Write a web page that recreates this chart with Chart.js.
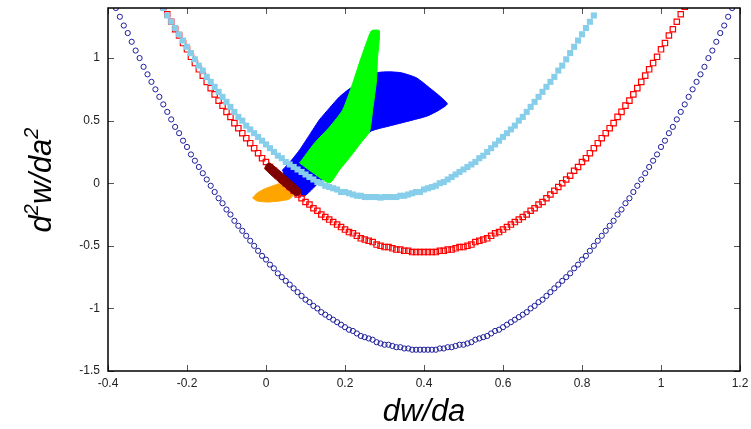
<!DOCTYPE html>
<html>
<head>
<meta charset="utf-8">
<script src="https://cdn.jsdelivr.net/npm/chart.js@4/dist/chart.umd.min.js"></script>
<style>
  body { margin: 0; background: #fff; }
  #wrap { width: 751px; height: 429px; }
</style>
</head>
<body>
<div id="wrap"><canvas id="chart" width="751" height="429"></canvas></div>
<script>
// tick positions
var xTicks = [-0.4, -0.2, 0, 0.2, 0.4, 0.6, 0.8, 1, 1.2];
var yTicks = [-1.5, -1, -0.5, 0, 0.5, 1];

// dark blue open circles
var navyX = [-0.38,-0.37,-0.36,-0.35,-0.34,-0.33,-0.32,-0.31,-0.30,-0.29,-0.28,-0.27,-0.26,-0.25,-0.24,-0.23,-0.22,-0.21,-0.20,-0.19,
  -0.18,-0.17,-0.16,-0.15,-0.14,-0.13,-0.12,-0.11,-0.10,-0.09,-0.08,-0.07,-0.06,-0.05,-0.04,-0.03,-0.02,-0.01,0,0.01,
  0.02,0.03,0.04,0.05,0.06,0.07,0.08,0.09,0.10,0.11,0.12,0.13,0.14,0.15,0.16,0.17,0.18,0.19,0.20,0.21,
  0.22,0.23,0.24,0.25,0.26,0.27,0.28,0.29,0.30,0.31,0.32,0.33,0.34,0.35,0.36,0.37,0.38,0.39,0.40,0.41,
  0.42,0.43,0.44,0.45,0.46,0.47,0.48,0.49,0.50,0.51,0.52,0.53,0.54,0.55,0.56,0.57,0.58,0.59,0.60,0.61,
  0.62,0.63,0.64,0.65,0.66,0.67,0.68,0.69,0.70,0.71,0.72,0.73,0.74,0.75,0.76,0.77,0.78,0.79,0.80,0.81,
  0.82,0.83,0.84,0.85,0.86,0.87,0.88,0.89,0.90,0.91,0.92,0.93,0.94,0.95,0.96,0.97,0.98,0.99,1.00,1.01,
  1.02,1.03,1.04,1.05,1.06,1.07,1.08,1.09,1.10,1.11,1.12,1.13,1.14,1.15,1.16,1.17,1.18];
var navyY = [1.40,1.33,1.26,1.20,1.13,1.06,1.00,0.93,0.87,0.81,0.75,0.69,0.63,0.57,0.51,0.45,0.40,0.34,0.29,0.23,
  0.18,0.13,0.08,0.03,-0.02,-0.07,-0.12,-0.16,-0.21,-0.25,-0.30,-0.34,-0.38,-0.42,-0.46,-0.50,-0.54,-0.58,-0.61,-0.65,
  -0.68,-0.72,-0.75,-0.78,-0.81,-0.84,-0.87,-0.90,-0.93,-0.95,-0.98,-1.00,-1.03,-1.05,-1.07,-1.09,-1.11,-1.13,-1.15,-1.17,
  -1.18,-1.20,-1.22,-1.23,-1.24,-1.25,-1.27,-1.28,-1.29,-1.29,-1.30,-1.31,-1.31,-1.32,-1.32,-1.33,-1.33,-1.33,-1.33,-1.33,
  -1.33,-1.33,-1.32,-1.32,-1.31,-1.31,-1.30,-1.29,-1.29,-1.28,-1.27,-1.25,-1.24,-1.23,-1.22,-1.20,-1.18,-1.17,-1.15,-1.13,
  -1.11,-1.09,-1.07,-1.05,-1.03,-1.00,-0.98,-0.95,-0.93,-0.90,-0.87,-0.84,-0.81,-0.78,-0.75,-0.72,-0.68,-0.65,-0.61,-0.58,
  -0.54,-0.50,-0.46,-0.42,-0.38,-0.34,-0.30,-0.25,-0.21,-0.16,-0.12,-0.07,-0.02,0.03,0.08,0.13,0.18,0.23,0.29,0.34,
  0.40,0.45,0.51,0.57,0.63,0.69,0.75,0.81,0.87,0.93,1.00,1.06,1.13,1.20,1.26,1.33,1.40];

// red open squares
var redX = [-0.26,-0.25,-0.24,-0.23,-0.22,-0.21,-0.20,-0.19,-0.18,-0.17,-0.16,-0.15,-0.14,-0.13,-0.12,-0.11,-0.10,-0.09,-0.08,-0.07,
  -0.06,-0.05,-0.04,-0.03,-0.02,-0.01,0,0.01,0.02,0.03,0.04,0.05,0.06,0.07,0.08,0.09,0.10,0.11,0.12,0.13,
  0.14,0.15,0.16,0.17,0.18,0.19,0.20,0.21,0.22,0.23,0.24,0.25,0.26,0.27,0.28,0.29,0.30,0.31,0.32,0.33,
  0.34,0.35,0.36,0.37,0.38,0.39,0.40,0.41,0.42,0.43,0.44,0.45,0.46,0.47,0.48,0.49,0.50,0.51,0.52,0.53,
  0.54,0.55,0.56,0.57,0.58,0.59,0.60,0.61,0.62,0.63,0.64,0.65,0.66,0.67,0.68,0.69,0.70,0.71,0.72,0.73,
  0.74,0.75,0.76,0.77,0.78,0.79,0.80,0.81,0.82,0.83,0.84,0.85,0.86,0.87,0.88,0.89,0.90,0.91,0.92,0.93,
  0.94,0.95,0.96,0.97,0.98,0.99,1.00,1.01,1.02,1.03,1.04,1.05,1.06];
var redY = [1.41,1.35,1.29,1.23,1.18,1.12,1.07,1.01,0.96,0.91,0.86,0.81,0.76,0.71,0.66,0.62,0.57,0.53,0.48,0.44,
  0.40,0.36,0.32,0.28,0.24,0.20,0.17,0.13,0.10,0.06,0.03,0.00,-0.03,-0.06,-0.09,-0.12,-0.15,-0.17,-0.20,-0.22,
  -0.25,-0.27,-0.29,-0.31,-0.33,-0.35,-0.37,-0.39,-0.40,-0.42,-0.44,-0.45,-0.46,-0.47,-0.49,-0.50,-0.51,-0.51,-0.52,-0.53,
  -0.53,-0.54,-0.54,-0.55,-0.55,-0.55,-0.55,-0.55,-0.55,-0.55,-0.54,-0.54,-0.53,-0.53,-0.52,-0.51,-0.51,-0.50,-0.49,-0.47,
  -0.46,-0.45,-0.44,-0.42,-0.40,-0.39,-0.37,-0.35,-0.33,-0.31,-0.29,-0.27,-0.25,-0.22,-0.20,-0.17,-0.15,-0.12,-0.09,-0.06,
  -0.03,0.00,0.03,0.06,0.10,0.13,0.17,0.20,0.24,0.28,0.32,0.36,0.40,0.44,0.48,0.53,0.57,0.62,0.66,0.71,
  0.76,0.81,0.86,0.91,0.96,1.01,1.07,1.12,1.18,1.23,1.29,1.35,1.41];

// sky blue filled squares
var skyX = [-0.26,-0.25,-0.24,-0.23,-0.22,-0.21,-0.20,-0.19,-0.18,-0.17,-0.16,-0.15,-0.14,-0.13,-0.12,-0.11,-0.10,-0.09,-0.08,-0.07,
  -0.06,-0.05,-0.04,-0.03,-0.02,-0.01,0,0.01,0.02,0.03,0.04,0.05,0.06,0.07,0.08,0.09,0.10,0.11,0.12,0.13,
  0.14,0.15,0.16,0.17,0.18,0.19,0.20,0.21,0.22,0.23,0.24,0.25,0.26,0.27,0.28,0.29,0.30,0.31,0.32,0.33,
  0.34,0.35,0.36,0.37,0.38,0.39,0.40,0.41,0.42,0.43,0.44,0.45,0.46,0.47,0.48,0.49,0.50,0.51,0.52,0.53,
  0.54,0.55,0.56,0.57,0.58,0.59,0.60,0.61,0.62,0.63,0.64,0.65,0.66,0.67,0.68,0.69,0.70,0.71,0.72,0.73,
  0.74,0.75,0.76,0.77,0.78,0.79,0.80,0.81,0.82,0.83];
var skyY = [1.40,1.34,1.29,1.24,1.19,1.14,1.09,1.04,0.99,0.94,0.90,0.85,0.81,0.77,0.73,0.69,0.65,0.61,0.57,0.53,
  0.50,0.46,0.43,0.40,0.37,0.34,0.31,0.28,0.25,0.22,0.20,0.17,0.15,0.13,0.11,0.09,0.07,0.05,0.03,0.01,
  0.00,-0.02,-0.03,-0.04,-0.05,-0.07,-0.07,-0.08,-0.09,-0.10,-0.10,-0.11,-0.11,-0.11,-0.11,-0.115,-0.11,-0.11,-0.11,-0.11,
  -0.10,-0.10,-0.09,-0.08,-0.07,-0.07,-0.05,-0.04,-0.03,-0.02,0.00,0.01,0.03,0.05,0.07,0.09,0.11,0.13,0.15,0.17,
  0.20,0.22,0.25,0.28,0.31,0.34,0.37,0.40,0.43,0.46,0.50,0.53,0.57,0.61,0.65,0.69,0.73,0.77,0.81,0.85,
  0.90,0.94,0.99,1.04,1.09,1.14,1.19,1.24,1.29,1.34];

// outlines of the dense point clouds [x, y]
var blueCloud = [[0.042,0.106],[0.065,0.186],[0.085,0.266],[0.110,0.386],[0.135,0.506],[0.161,0.602],[0.186,0.690],
  [0.211,0.754],[0.237,0.802],[0.280,0.882],[0.313,0.890],[0.343,0.882],[0.381,0.842],[0.414,0.762],[0.442,0.690],
  [0.459,0.634],[0.439,0.586],[0.409,0.538],[0.363,0.498],[0.313,0.458],[0.267,0.418],[0.237,0.346],[0.186,0.146],
  [0.135,0.010],[0.115,-0.054],[0.097,-0.102],[0.080,-0.094],[0.054,-0.006]];
var greenCloud = [[0.085,0.162],[0.123,0.322],[0.161,0.450],[0.194,0.586],[0.219,0.794],[0.239,0.986],[0.257,1.146],
  [0.267,1.218],[0.287,1.218],[0.282,0.986],[0.280,0.826],[0.270,0.586],[0.262,0.410],[0.244,0.338],[0.211,0.202],
  [0.186,0.106],[0.161,0.002],[0.123,0.074]];
var orangeCloud = [[-0.034,-0.118],[-0.022,-0.078],[-0.004,-0.046],[0.016,-0.022],[0.039,0.002],[0.059,0.010],
  [0.075,-0.070],[0.059,-0.126],[0.034,-0.142],[0.004,-0.150],[-0.022,-0.142]];
var maroonCloud = [[0.001,0.150],[0.010,0.162],[0.089,-0.054],[0.085,-0.086],[0.076,-0.102],[-0.003,0.114]];

var fontFamily = 'Liberation Sans, Arial, sans-serif';

function pairs(xs, ys) {
    return xs.map(function (x, i) {
        return {x: x, y: ys[i]};
    });
}

function outline(list) {
    var pts = list.map(function (p) {
        return {x: p[0], y: p[1]};
    });
    pts.push({x: list[0][0], y: list[0][1]});
    return pts;
}

function cloud(list, color, order) {
    return {
        type: 'line',
        data: outline(list),
        showLine: true,
        fill: 'shape',
        tension: 0.2,
        borderColor: color,
        backgroundColor: color,
        borderWidth: 1,
        pointRadius: 0,
        order: order
    };
}

// frame with inward ticks on all four sides, plus the y title with real superscripts
var frame = {
    id: 'frame',
    afterDatasetsDraw: function (chart) {
        var ctx = chart.ctx;
        var a = chart.chartArea;
        var x = chart.scales.x;
        var y = chart.scales.y;
        ctx.save();
        ctx.strokeStyle = '#555';
        ctx.lineWidth = 1;
        ctx.beginPath();
        xTicks.forEach(function (v) {
            var px = Math.round(x.getPixelForValue(v)) + 0.5;
            ctx.moveTo(px, a.bottom);
            ctx.lineTo(px, a.bottom - 6);
            ctx.moveTo(px, a.top);
            ctx.lineTo(px, a.top + 6);
        });
        yTicks.forEach(function (v) {
            var py = Math.round(y.getPixelForValue(v)) + 0.5;
            ctx.moveTo(a.left, py);
            ctx.lineTo(a.left + 6, py);
            ctx.moveTo(a.right, py);
            ctx.lineTo(a.right - 6, py);
        });
        ctx.stroke();
        ctx.strokeStyle = '#000';
        ctx.lineWidth = 1.5;
        ctx.strokeRect(a.left, a.top, a.right - a.left, a.bottom - a.top);

        // y axis title: d^2w/da^2
        var parts = [['d', 31, 0], ['2', 20, -13], ['w/da', 31, 0], ['2', 20, -13]];
        var total = 0;
        parts.forEach(function (p) {
            ctx.font = 'italic ' + p[1] + 'px ' + fontFamily;
            total += ctx.measureText(p[0]).width;
        });
        ctx.translate(51, 180);
        ctx.rotate(-Math.PI / 2);
        ctx.fillStyle = '#000';
        ctx.textBaseline = 'alphabetic';
        var cx = -total / 2;
        parts.forEach(function (p) {
            ctx.font = 'italic ' + p[1] + 'px ' + fontFamily;
            ctx.fillText(p[0], cx, p[2]);
            cx += ctx.measureText(p[0]).width;
        });
        ctx.restore();
    }
};

new Chart(document.getElementById('chart'), {
    type: 'scatter',
    data: {
        datasets: [
            {data: pairs(skyX, skyY), pointStyle: 'rect', pointRadius: 4.3, borderWidth: 0,
                backgroundColor: '#87ceeb', borderColor: '#87ceeb', order: 1},
            cloud(maroonCloud, '#800000', 2),
            {data: pairs(redX, redY), pointStyle: 'rect', pointRadius: 3.8, borderWidth: 1.2,
                backgroundColor: 'rgba(0,0,0,0)', borderColor: '#ff0000', order: 3},
            cloud(greenCloud, '#00ff00', 4),
            cloud(blueCloud, '#0000ff', 5),
            cloud(orangeCloud, '#ffa500', 6),
            {data: pairs(navyX, navyY), pointStyle: 'circle', pointRadius: 2.6, borderWidth: 1,
                backgroundColor: 'rgba(0,0,0,0)', borderColor: '#1c1c9c', order: 7}
        ]
    },
    options: {
        responsive: false,
        animation: false,
        layout: {padding: {left: 0, right: 11, top: 8, bottom: 0}},
        plugins: {legend: {display: false}, tooltip: {enabled: false}},
        scales: {
            x: {
                type: 'linear',
                min: -0.4,
                max: 1.2,
                grid: {display: false, drawTicks: false},
                border: {display: false},
                afterBuildTicks: function (scale) {
                    scale.ticks = xTicks.map(function (v) { return {value: v}; });
                },
                afterFit: function (scale) {
                    scale.height = 58;
                    scale.paddingLeft = 0;
                    scale.paddingRight = 0;
                },
                ticks: {
                    autoSkip: false, maxRotation: 0, padding: 5, color: '#222',
                    font: {family: fontFamily, size: 12},
                    callback: function (v) { return String(v); }
                },
                title: {
                    display: true, text: 'dw/da', color: '#000',
                    font: {family: fontFamily, size: 31, style: 'italic', lineHeight: 1.1},
                    padding: {top: 0, bottom: 0}
                }
            },
            y: {
                type: 'linear',
                min: -1.5,
                max: 1.4,
                grid: {display: false, drawTicks: false},
                border: {display: false},
                afterBuildTicks: function (scale) {
                    scale.ticks = yTicks.map(function (v) { return {value: v}; });
                },
                afterFit: function (scale) {
                    scale.width = 108;
                    scale.paddingTop = 0;
                    scale.paddingBottom = 0;
                },
                ticks: {
                    padding: 8, color: '#222',
                    font: {family: fontFamily, size: 12},
                    callback: function (v) { return String(v); }
                }
            }
        }
    },
    plugins: [frame]
});
</script>
</body>
</html>
